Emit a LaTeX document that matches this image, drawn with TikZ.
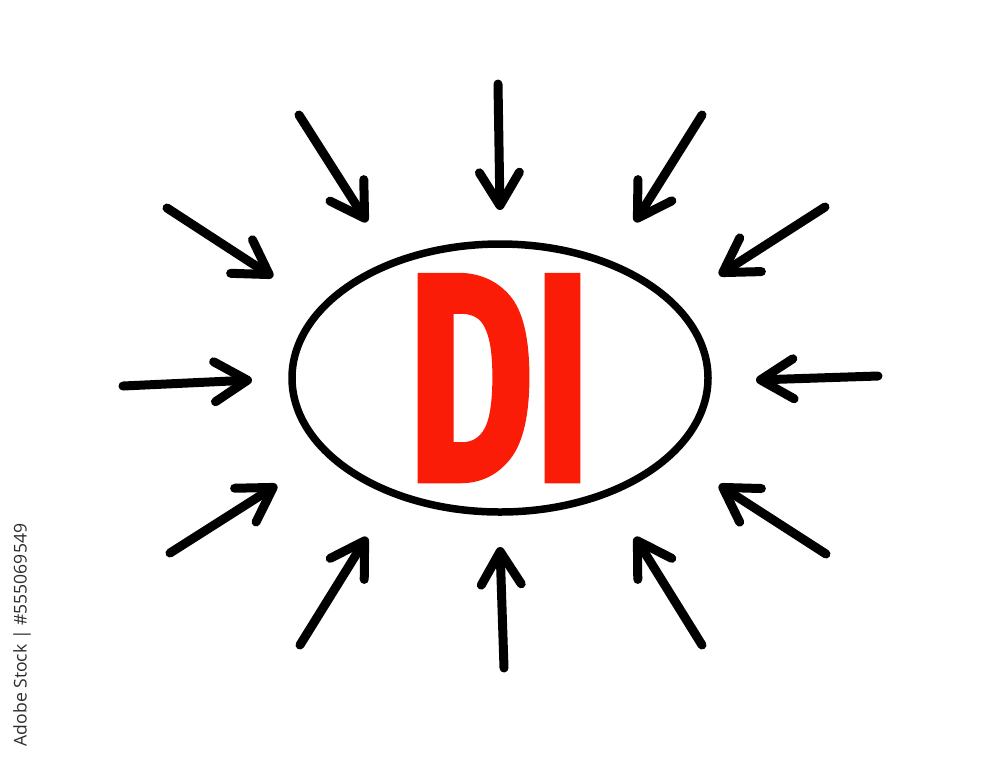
\documentclass[tikz,border=0pt]{standalone}
\usepackage{fontspec}
\usepackage{tikz}
\usetikzlibrary{arrows.meta,shapes.geometric}
\newfontfamily\markerfont[BoldFeatures={FakeBold=2}]{Fira Sans}
\newfontfamily\stockfont{Open Sans}
\definecolor{markred}{RGB}{250,28,6}
\definecolor{stockgray}{RGB}{45,45,45}

\begin{document}
\begin{tikzpicture}[
        arr/.style={line width=0.09cm, line cap=round, -{Straight Barb[length=3.3mm,width=4mm,round]}},
        ]
        \fill[white] (-5cm,-3.78cm) rectangle (5cm,3.78cm);
        \useasboundingbox (-5cm,-3.78cm) rectangle (5cm,3.78cm);
        \node (oval) [draw, ellipse, line width=0.075cm, minimum width=4.16cm, minimum height=2.68cm, inner sep=0pt] at (0cm, 0cm) {};
        \node (di) [text=markred, font=\markerfont\bfseries\fontsize{84}{84}\selectfont, xscale=0.66] at (-0.010000cm, 0.000000cm) {DI};
        \node (stock) [rotate=90, text=stockgray, font=\stockfont\fontsize{5}{6}\selectfont] at (-4.780000cm, -2.570000cm) {Adobe Stock | \#555069549};
        \coordinate (t1) at (-0.020000cm, 2.940000cm);
        \coordinate (h1) at (0.000000cm, 1.680000cm);
        \coordinate (t2) at (-2.010000cm, 2.630000cm);
        \coordinate (h2) at (-1.330000cm, 1.560000cm);
        \coordinate (t3) at (2.020000cm, 2.630000cm);
        \coordinate (h3) at (1.350000cm, 1.560000cm);
        \coordinate (t4) at (-3.330000cm, 1.700000cm);
        \coordinate (h4) at (-2.270000cm, 1.010000cm);
        \coordinate (t5) at (3.250000cm, 1.710000cm);
        \coordinate (h5) at (2.190000cm, 1.030000cm);
        \coordinate (t6) at (-3.770000cm, -0.080000cm);
        \coordinate (h6) at (-2.480000cm, -0.020000cm);
        \coordinate (t7) at (3.780000cm, 0.020000cm);
        \coordinate (h7) at (2.560000cm, -0.020000cm);
        \coordinate (t8) at (-3.300000cm, -1.750000cm);
        \coordinate (h8) at (-2.230000cm, -1.070000cm);
        \coordinate (t9) at (3.260000cm, -1.760000cm);
        \coordinate (h9) at (2.190000cm, -1.070000cm);
        \coordinate (t10) at (-2.000000cm, -2.670000cm);
        \coordinate (h10) at (-1.330000cm, -1.590000cm);
        \coordinate (t11) at (0.040000cm, -2.900000cm);
        \coordinate (h11) at (0.000000cm, -1.690000cm);
        \coordinate (t12) at (2.020000cm, -2.670000cm);
        \coordinate (h12) at (1.350000cm, -1.590000cm);
        \draw (t1) edge [arr] (h1);
        \draw (t2) edge [arr] (h2);
        \draw (t3) edge [arr] (h3);
        \draw (t4) edge [arr] (h4);
        \draw (t5) edge [arr] (h5);
        \draw (t6) edge [arr] (h6);
        \draw (t7) edge [arr] (h7);
        \draw (t8) edge [arr] (h8);
        \draw (t9) edge [arr] (h9);
        \draw (t10) edge [arr] (h10);
        \draw (t11) edge [arr] (h11);
        \draw (t12) edge [arr] (h12);
\end{tikzpicture}
\end{document}
